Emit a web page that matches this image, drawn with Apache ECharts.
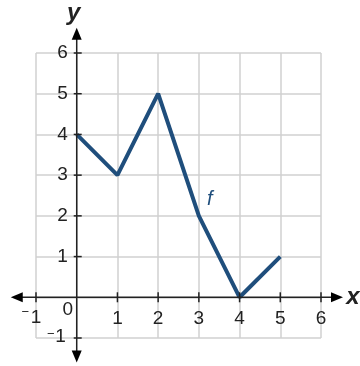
<!DOCTYPE html>
<html lang="en">
<head>
    <meta charset="UTF-8">
    <title>f graph</title>
    <script src="https://cdn.jsdelivr.net/npm/echarts@6/dist/echarts.min.js"></script>
</head>
<body style="margin:0;background:#fff;">
<div id="main" style="width:360px;height:366px;"></div>
<script type="text/javascript">
    // points of f
    var xs = [0, 1, 2, 3, 4, 5];
    var ys = [4, 3, 5, 2, 0, 1];
    var tickVals = [-1, 0, 1, 2, 3, 4, 5, 6];
    var fLabelAt = [3.27, 2.4];

    var ink = '#222';
    var blue = '#1f4e7c';
    var font = 'Liberation Sans, Arial, sans-serif';

    var chart = echarts.init(document.getElementById('main'));

    var option = {
        animation: false,
        backgroundColor: '#fff',
        grid: {left: 36, right: 39, top: 53, bottom: 28},
        xAxis: {
            type: 'value', min: -1, max: 6, interval: 1,
            axisLine: {show: false},
            axisTick: {show: false},
            axisLabel: {show: false},
            splitLine: {lineStyle: {color: '#d0d0d0', width: 1.5}}
        },
        yAxis: {
            type: 'value', min: -1, max: 6, interval: 1,
            axisLine: {show: false},
            axisTick: {show: false},
            axisLabel: {show: false},
            splitLine: {lineStyle: {color: '#d0d0d0', width: 1.5}}
        },
        series: [{
            type: 'line',
            data: xs.map(function (x, i) { return [x, ys[i]]; }),
            showSymbol: false,
            lineStyle: {color: blue, width: 4},
            z: 5
        }]
    };
    chart.setOption(option);

    // axes through the origin, with arrows, crossing ticks and labels
    function px(p) { return chart.convertToPixel({gridIndex: 0}, p); }
    var o = px([0, 0]);
    var xl = px([-1.62, 0])[0], xr = px([6.54, 0])[0];
    var yt = px([0, 6.62])[1], yb = px([0, -1.6])[1];
    var ah = 12, aw = 5;
    var g = [];
    function txt(x, y, s, size, align, extra) {
        var st = {text: s, fontSize: size, fontFamily: font, fill: ink, align: align, verticalAlign: 'middle'};
        for (var k in extra) st[k] = extra[k];
        g.push({type: 'text', x: x, y: y, style: st, z: 10});
    }
    g.push({type: 'line', shape: {x1: xl + 4, y1: o[1], x2: xr - 4, y2: o[1]}, style: {stroke: ink, lineWidth: 1.5}, z: 10});
    g.push({type: 'line', shape: {x1: o[0], y1: yt + 4, x2: o[0], y2: yb - 4}, style: {stroke: ink, lineWidth: 1.5}, z: 10});
    g.push({type: 'polygon', shape: {points: [[xl, o[1]], [xl + ah, o[1] - aw], [xl + ah, o[1] + aw]]}, style: {fill: '#000'}, z: 10});
    g.push({type: 'polygon', shape: {points: [[xr, o[1]], [xr - ah, o[1] - aw], [xr - ah, o[1] + aw]]}, style: {fill: '#000'}, z: 10});
    g.push({type: 'polygon', shape: {points: [[o[0], yt], [o[0] - aw, yt + ah], [o[0] + aw, yt + ah]]}, style: {fill: '#000'}, z: 10});
    g.push({type: 'polygon', shape: {points: [[o[0], yb], [o[0] - aw, yb - ah], [o[0] + aw, yb - ah]]}, style: {fill: '#000'}, z: 10});
    tickVals.forEach(function (v) {
        if (v === 0) return;
        var a = px([v, 0]);
        g.push({type: 'line', shape: {x1: a[0], y1: a[1] - 5, x2: a[0], y2: a[1] + 5}, style: {stroke: ink, lineWidth: 1.5}, z: 10});
        var b = px([0, v]);
        g.push({type: 'line', shape: {x1: b[0] - 3, y1: b[1], x2: b[0] + 5, y2: b[1]}, style: {stroke: ink, lineWidth: 1.5}, z: 10});
        var s = String(Math.abs(v));
        if (v < 0) {
            txt(a[0], a[1] + 20, s, 19, 'center');
            txt(a[0] - 7, a[1] + 15, '\u2212', 13, 'right');
            txt(b[0] - 11, b[1] - 1, s, 19, 'right');
            txt(b[0] - 22, b[1] - 4, '\u2212', 13, 'right');
        } else {
            txt(a[0], a[1] + 21, s, 19, 'center');
            txt(b[0] - 9, b[1], s, 19, 'right');
        }
    });
    txt(o[0] - 9, o[1] + 12, '0', 19, 'center');
    txt(xr + 10, o[1], 'x', 24, 'center', {fontStyle: 'italic', fontWeight: 'bold'});
    txt(o[0] - 3, yt - 14, 'y', 24, 'center', {fontStyle: 'italic', fontWeight: 'bold'});
    var fp = px(fLabelAt);
    txt(fp[0], fp[1], 'f', 20, 'center', {fontStyle: 'italic', fill: blue});
    chart.setOption({graphic: g});
</script>
</body>
</html>
